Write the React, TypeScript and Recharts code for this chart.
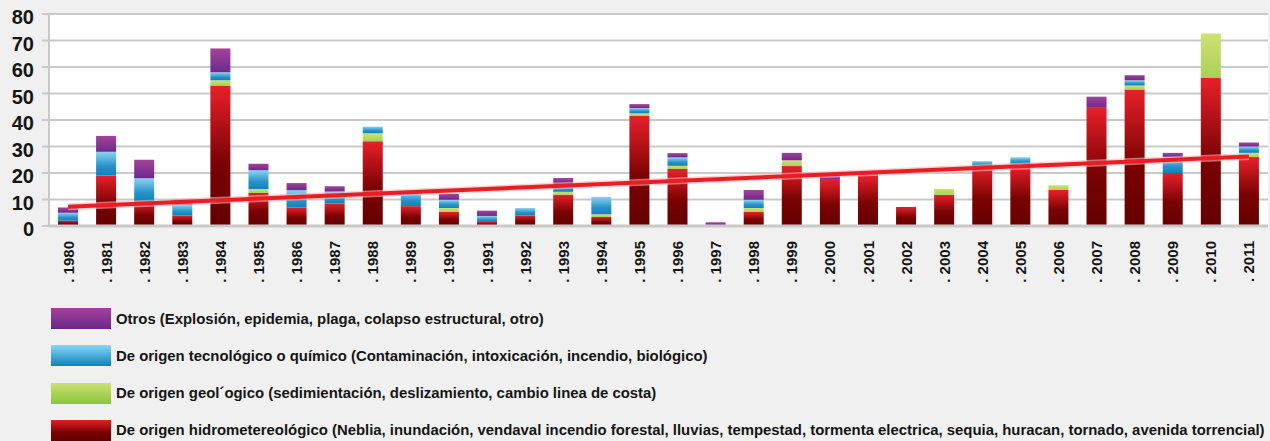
import React from "react"
import {
  Bar,
  CartesianGrid,
  ComposedChart,
  Line,
  XAxis,
  YAxis
} from "recharts"

const years = [
  "1980", "1981", "1982", "1983", "1984", "1985", "1986", "1987", "1988", "1989", "1990",
  "1991", "1992", "1993", "1994", "1995", "1996", "1997", "1998", "1999", "2000", "2001",
  "2002", "2003", "2004", "2005", "2006", "2007", "2008", "2009", "2010", "2011"
]

// de origen hidrometereológico
const hidro = [2, 19, 9, 4, 53, 12.5, 7, 8.5, 32, 7.5, 5.3, 1.5, 4, 11.8, 3.4, 41.5, 21.5, 0, 5.3, 22.6, 17.4, 19, 7.2, 11.8, 22.5, 23, 13.6, 44.6, 51.5, 20, 56, 26]
// de origen geológico
const geo = [0, 0, 0, 0, 2, 1.5, 0, 0, 3, 0, 1.5, 0, 0, 1.1, 1, 1, 1.2, 0, 1.5, 2.2, 0, 0, 0, 2.2, 0, 0.4, 1.8, 0, 1.5, 0, 16.6, 1.6]
// de origen tecnológico o químico
const tec = [3, 9, 9, 4, 3, 7, 6.5, 4.5, 2.5, 5.5, 3.1, 2.3, 2.8, 2.9, 6.6, 2, 3.2, 0, 3.1, 0, 0, 0, 0, 0, 2, 2.5, 0, 0, 2, 6, 0, 2.4]
// otros
const otros = [2, 6, 7, 2, 9, 2.5, 2.7, 2, 0, 0, 2.2, 2, 0, 2.3, 0, 1.5, 1.6, 1.4, 3.7, 2.8, 1.6, 1.5, 0, 0, 0, 0, 0, 4.2, 1.9, 1.6, 0, 1.5]

// linea de tendencia: solo extremos
const trendStart = 7.3
const trendEnd = 26.2

const yTicks = [0, 10, 20, 30, 40, 50, 60, 70, 80]

const legendItems = [
  { name: "Otros (Explosión, epidemia, plaga, colapso estructural, otro)", grad: "linear-gradient(#a5419a, #66288a)" },
  { name: "De origen tecnológico o químico (Contaminación, intoxicación, incendio, biológico)", grad: "linear-gradient(#8ad6f6, #0b82bd)" },
  { name: "De origen geol´ogico (sedimientación, deslizamiento, cambio linea de costa)", grad: "linear-gradient(#c9e070, #8cc63e)" },
  { name: "De origen hidrometereológico (Neblia, inundación, vendaval incendio forestal, lluvias, tempestad, tormenta electrica, sequia, huracan, tornado, avenida torrencial)", grad: "linear-gradient(#e81c24, #7a0202 60%, #600000)" }
]

const data = years.map((year, i) => ({
  year,
  hidro: hidro[i],
  geo: geo[i],
  tec: tec[i],
  otros: otros[i],
  trend: i === 0 ? trendStart : i === years.length - 1 ? trendEnd : null
}))

const font = "'Liberation Sans', Arial, sans-serif"

const YTick = ({ x, y, payload }: any) => (
  <text x={x} y={y + 3} textAnchor="end" dominantBaseline="central" fontSize={20} fontWeight="bold" fill="#151515" fontFamily={font}>
    {payload.value}
  </text>
)

const XTick = ({ x, y, payload }: any) => {
  const ty = y + 13
  return (
    <text
      x={x}
      y={ty}
      transform={`rotate(-90, ${x}, ${ty})`}
      textAnchor="end"
      dominantBaseline="central"
      fontSize={15}
      fontWeight="bold"
      fill="#151515"
      fontFamily={font}
    >
      {`. ${payload.value}`}
    </text>
  )
}

export default function App() {
  return (
    <div style={{ position: "absolute", left: 0, top: 0, width: 1270, height: 441, background: "#f0f0f0", overflow: "hidden" }}>
      <ComposedChart width={1270} height={300} data={data} margin={{ top: 14, right: 2, left: 0, bottom: 0 }} barSize={20}>
        <defs>
          <linearGradient id="gRed" x1="0" y1="0" x2="0" y2="1">
            <stop offset="0" stopColor="#e8202a" />
            <stop offset="0.55" stopColor="#7a0303" />
            <stop offset="1" stopColor="#640000" />
          </linearGradient>
          <linearGradient id="gGreen" x1="0" y1="0" x2="0" y2="1">
            <stop offset="0" stopColor="#cfe171" />
            <stop offset="1" stopColor="#a9d158" />
          </linearGradient>
          <linearGradient id="gBlue" x1="0" y1="0" x2="0" y2="1">
            <stop offset="0" stopColor="#8ad4f4" />
            <stop offset="0.6" stopColor="#2892c8" />
            <stop offset="1" stopColor="#0f82bc" />
          </linearGradient>
          <linearGradient id="gPurple" x1="0" y1="0" x2="0" y2="1">
            <stop offset="0" stopColor="#a5429a" />
            <stop offset="1" stopColor="#6a2a8c" />
          </linearGradient>
        </defs>
        <CartesianGrid vertical={false} stroke="#c9c9c9" strokeWidth={2} fill="#ffffff" />
        <XAxis
          dataKey="year"
          interval={0}
          height={74}
          tickLine={false}
          tickSize={0}
          axisLine={{ stroke: "#c9c9c9", strokeWidth: 3 }}
          tick={<XTick />}
        />
        <YAxis
          domain={[0, 80]}
          ticks={yTicks}
          width={49}
          tickSize={7}
          tickMargin={8}
          axisLine={{ stroke: "#c9c9c9", strokeWidth: 2 }}
          tickLine={{ stroke: "#c9c9c9", strokeWidth: 2 }}
          tick={<YTick />}
        />
        <Bar dataKey="hidro" stackId="a" fill="url(#gRed)" isAnimationActive={false} />
        <Bar dataKey="geo" stackId="a" fill="url(#gGreen)" isAnimationActive={false} />
        <Bar dataKey="tec" stackId="a" fill="url(#gBlue)" isAnimationActive={false} />
        <Bar dataKey="otros" stackId="a" fill="url(#gPurple)" isAnimationActive={false} />
        <Line dataKey="trend" connectNulls stroke="#f7b5b5" strokeWidth={7} strokeOpacity={0.6} dot={false} activeDot={false} isAnimationActive={false} />
        <Line dataKey="trend" connectNulls stroke="#ea1c24" strokeWidth={4} dot={false} activeDot={false} isAnimationActive={false} />
      </ComposedChart>
      <div style={{ position: "absolute", left: 51, top: 308 }}>
        {legendItems.map((item, i) => (
          <div key={i} style={{ position: "absolute", left: 0, top: i * 37.3, display: "flex", alignItems: "center", whiteSpace: "nowrap" }}>
            <div style={{ width: 60, height: 21, background: item.grad }} />
            <span style={{ marginLeft: 5, fontFamily: font, fontWeight: "bold", fontSize: 14.9, color: "#151515" }}>{item.name}</span>
          </div>
        ))}
      </div>
    </div>
  )
}
